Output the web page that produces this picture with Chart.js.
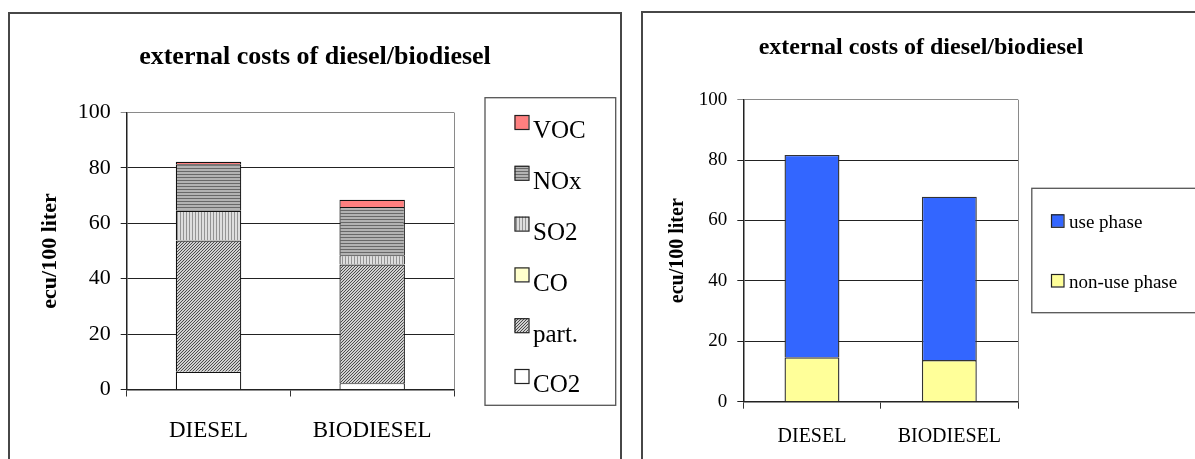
<!DOCTYPE html>
<html><head><meta charset="utf-8">
<script src="https://cdn.jsdelivr.net/npm/chart.js@4.4.0/dist/chart.umd.min.js"></script>
<style>
html,body{margin:0;padding:0;background:#fff;width:1195px;height:459px;overflow:hidden;}
.panel{position:absolute;border:2px solid #474747;box-sizing:border-box;}
canvas{position:absolute;top:0;}
</style></head><body>
<div class="panel" style="left:8px;top:12px;width:614px;height:500px"></div>
<div class="panel" style="left:641px;top:11px;width:600px;height:500px"></div>
<canvas id="c1" width="625" height="459" style="left:0"></canvas>
<canvas id="c2" width="570" height="459" style="left:625px"></canvas>
<script>
// ---------- data ----------
const categories = ['DIESEL', 'BIODIESEL'];
const yTicks = [0, 20, 40, 60, 80, 100];
const chartTitle = 'external costs of diesel/biodiesel';
const yAxisTitle = 'ecu/100 liter';
// left chart: cost components (ecu/100 liter), bottom to top
const co2  = [6.4, 2.3];
const part = [47.4, 42.8];
const co   = [0.1, 0.1];
const so2  = [10.6, 3.3];
const nox  = [16.8, 17.4];
const voc  = [0.9, 2.6];
// right chart: life-cycle phases
const nonUsePhase = [14.7, 13.8];
const usePhase    = [67.0, 54.1];

// ---------- helpers ----------
const FONT = '"Liberation Serif", "Times New Roman", Times, serif';

function makePattern(ctx, kind) {
  const t = document.createElement('canvas');
  const g = t.getContext('2d');
  if (kind === 'diag') {
    t.width = 3; t.height = 3;
    g.fillStyle = '#d0d0d0'; g.fillRect(0, 0, 3, 3);
    g.fillStyle = '#4c4c4c';
    for (let i = 0; i < 3; i++) g.fillRect(i, 2 - i, 1, 1);
  } else if (kind === 'hstripe') {
    t.width = 3; t.height = 3;
    g.fillStyle = '#b2b2b2'; g.fillRect(0, 0, 3, 3);
    g.fillStyle = '#686868'; g.fillRect(0, 0, 3, 1);
  } else {
    t.width = 3; t.height = 3;
    g.fillStyle = '#dedede'; g.fillRect(0, 0, 3, 3);
    g.fillStyle = '#949494'; g.fillRect(0, 0, 1, 3);
  }
  return ctx.createPattern(t, 'repeat');
}

const decor = {
  id: 'decor',
  afterDraw(chart, args, o) {
    const ctx = chart.ctx;
    const a = chart.chartArea;
    ctx.save();
    // plot frame right edge
    ctx.strokeStyle = '#8a8a8a'; ctx.lineWidth = 1;
    const rx = Math.round(a.right) + 0.5;
    ctx.beginPath(); ctx.moveTo(rx, a.top); ctx.lineTo(rx, a.bottom); ctx.stroke();
    // title
    ctx.fillStyle = '#000';
    ctx.font = 'bold ' + o.titleSize + 'px ' + FONT;
    ctx.textAlign = 'center'; ctx.textBaseline = 'alphabetic';
    ctx.fillText(chartTitle, o.titleX, o.titleY);
    // legend
    ctx.strokeStyle = '#555'; ctx.lineWidth = 1.3;
    ctx.strokeRect(o.box[0], o.box[1], o.box[2], o.box[3]);
    const items = chart.data.datasets.map(d => ({label: d.label, bg: d.backgroundColor})).reverse();
    ctx.font = o.legendSize + 'px ' + FONT;
    ctx.textAlign = 'left';
    items.forEach((it, i) => {
      const y = o.firstY + i * o.step;
      ctx.fillStyle = it.bg;
      ctx.fillRect(o.sqX, y, o.sq, o.sq);
      ctx.strokeStyle = '#222'; ctx.lineWidth = 1.2;
      ctx.strokeRect(o.sqX + 0.5, y + 0.5, o.sq, o.sq);
      ctx.fillStyle = '#000';
      ctx.fillText(it.label, o.textX, y + o.baseOff);
    });
    ctx.restore();
  }
};

function axes(cfg) {
  return {
    x: {
      stacked: true,
      grid: {display: true, drawOnChartArea: false, drawTicks: true, tickLength: 7, color: '#333', offset: true},
      border: {display: true, color: '#222', width: 1.5},
      ticks: {color: '#000', padding: cfg.xPad, font: {family: FONT, size: cfg.xFont}, maxRotation: 0},
      afterFit: s => { s.height = cfg.xH; }
    },
    y: {
      stacked: true, min: 0, max: 100,
      afterBuildTicks: s => { s.ticks = yTicks.map(v => ({value: v})); },
      grid: {color: c => (c.tick && c.tick.value === 100 ? '#8a8a8a' : '#222'), lineWidth: 1, tickLength: 6, drawTicks: true},
      border: {display: true, color: '#222', width: 1.5},
      ticks: {color: '#000', padding: 10, font: {family: FONT, size: cfg.yFont}},
      title: {display: true, text: yAxisTitle, color: '#000', font: {family: FONT, size: cfg.titleFont, weight: 'bold'}, padding: {top: cfg.tPad, bottom: 0}},
      afterFit: s => { s.width = cfg.yW; }
    }
  };
}

// ---------- left chart ----------
const c1 = document.getElementById('c1');
const g1 = c1.getContext('2d');
const leftSeries = [
  {label: 'CO2',   data: co2,  bg: '#ffffff'},
  {label: 'part.', data: part, bg: makePattern(g1, 'diag')},
  {label: 'CO',    data: co,   bg: '#ffffcc'},
  {label: 'SO2',   data: so2,  bg: makePattern(g1, 'vstripe')},
  {label: 'NOx',   data: nox,  bg: makePattern(g1, 'hstripe')},
  {label: 'VOC',   data: voc,  bg: '#ff8080'}
];
new Chart(c1, {
  type: 'bar',
  data: {
    labels: categories,
    datasets: leftSeries.map(s => ({
      label: s.label, data: s.data, backgroundColor: s.bg,
      borderColor: '#111', borderWidth: 1.2, stack: 's',
      barPercentage: 0.4, categoryPercentage: 1.0
    }))
  },
  options: {
    responsive: false, animation: false, events: [],
    layout: {padding: {left: 36.7, right: 171, top: 112.5, bottom: 9.5}},
    plugins: {
      legend: {display: false}, title: {display: false}, tooltip: {enabled: false},
      decor: {titleSize: 26, titleX: 315, titleY: 64,
              box: [485, 97.7, 130.7, 307.6], sqX: 514.5, sq: 14, firstY: 115, step: 50.8,
              textX: 533, baseOff: 23.3, legendSize: 25}
    },
    scales: axes({xPad: 21, xFont: 23, xH: 60, yFont: 22, titleFont: 22, tPad: 0, yW: 90})
  },
  plugins: [decor]
});

// ---------- right chart ----------
const c2 = document.getElementById('c2');
const rightSeries = [
  {label: 'non-use phase', data: nonUsePhase, bg: '#ffff99'},
  {label: 'use phase',     data: usePhase,    bg: '#3366ff'}
];
new Chart(c2, {
  type: 'bar',
  data: {
    labels: categories,
    datasets: rightSeries.map(s => ({
      label: s.label, data: s.data, backgroundColor: s.bg,
      borderColor: '#333', borderWidth: 1.4, stack: 's',
      barPercentage: 0.4, categoryPercentage: 1.0
    }))
  },
  options: {
    responsive: false, animation: false, events: [],
    layout: {padding: {left: 38.3, right: 177, top: 99.7, bottom: 7.3}},
    plugins: {
      legend: {display: false}, title: {display: false}, tooltip: {enabled: false},
      decor: {titleSize: 24, titleX: 296, titleY: 53.5,
              box: [406.8, 188.3, 250, 124.4], sqX: 426, sq: 12.5, firstY: 214.3, step: 59.7,
              textX: 444, baseOff: 14, legendSize: 19}
    },
    scales: axes({xPad: 16, xFont: 20, xH: 50, yFont: 19, titleFont: 20, tPad: 2.7, yW: 80})
  },
  plugins: [decor]
});
</script>
</body></html>
